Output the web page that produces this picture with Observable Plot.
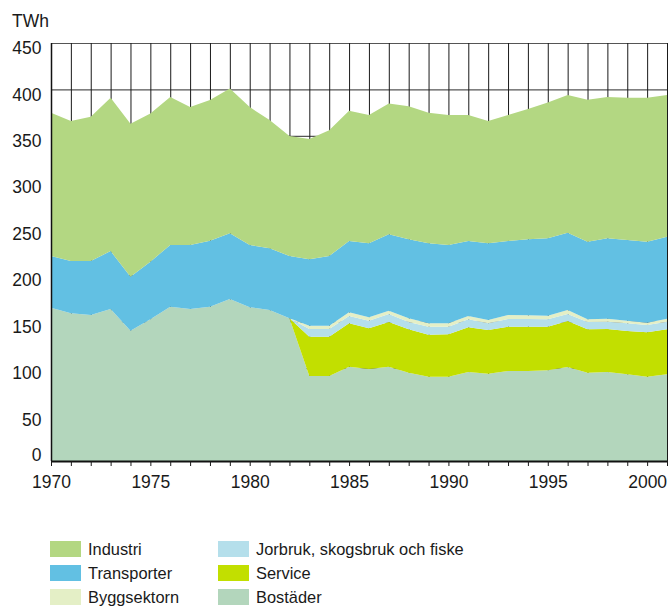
<!DOCTYPE html>
<html><head><meta charset="utf-8">
<script src="https://cdn.jsdelivr.net/npm/d3@7"></script>
<script src="https://cdn.jsdelivr.net/npm/@observablehq/plot@0.6"></script>
<style>
body{margin:0;background:#fff;font-family:"Liberation Sans",Arial,sans-serif;color:#1a1a1a}
#wrap{position:relative;width:668px;height:607px;overflow:hidden}
#unit{position:absolute;left:12px;top:13px;font-size:17.5px;line-height:17px}
#chart{position:absolute;left:0;top:0}
.lg{position:absolute;display:flex;align-items:center;font-size:16.4px;line-height:16px;white-space:nowrap}
.sw{width:31px;height:16px;margin-right:7px;flex:none}
</style></head><body>
<div id="wrap"><div id="chart"></div><div id="unit">TWh</div><div id="legend"></div></div>
<script>
const years = [1970,1971,1972,1973,1974,1975,1976,1977,1978,1979,1980,1981,1982,1983,1984,1985,1986,1987,1988,1989,1990,1991,1992,1993,1994,1995,1996,1997,1998,1999,2000,2001];
const seriesNames = ["Bostäder","Service","Jorbruk, skogsbruk och fiske","Byggsektorn","Transporter","Industri"];
const bostader = [165,159,157.2,163.6,140.3,152.5,166.1,163.6,166.1,174.4,165.5,162.6,153.6,91.5,91.5,101.5,99,101.5,95.1,90.8,90.8,95.8,94,96.9,96.9,97.6,101.2,95.1,95.8,93.3,90.8,93.3];
const service = [null,null,null,null,null,null,null,null,null,null,null,null,0,42.3,42.3,46.7,43.9,48.1,46.7,45.2,45.6,48.1,47,47.7,47.7,47,49.5,46.7,46.3,46.7,47.7,48.5];
const jordbruk = [null,null,null,null,null,null,null,null,null,null,null,null,0,8.3,8.3,7.9,8.2,8.7,7.8,8.6,8.2,8.6,7.2,8.3,8.3,7.9,7.6,7.8,7.9,8.2,7.9,8.2];
const bygg = [null,null,null,null,null,null,null,null,null,null,null,null,0,3.6,3.6,4.0,3.6,3.5,4.0,3.6,3.6,3.6,3.6,4.3,3.9,3.9,4.3,2.9,3.2,2.8,2.5,3.2];
const transport = [55.7,56.3,58.1,62.4,58.1,62.1,66.4,68.9,71.1,70.7,67,66.4,67.1,71.4,75,76.7,79.6,82.2,85.1,86.1,84.3,80.7,82.5,79.6,81.9,83.3,83.2,83.6,86.5,86.9,87.2,88.3];
const industri = [154.3,150.7,155.3,165,164.6,159.4,159.5,148.5,151.4,155.9,148.5,138,129.3,129.5,135.3,140.2,138.2,141,143.3,140.7,140,135.7,131.7,135.7,140.3,146.3,148.2,152.9,152.3,153.1,154.9,152.5];
const yTicks = [0,50,100,150,200,250,300,350,400,450];
const xLabelYears = [1970,1975,1980,1985,1990,1995,2000];
const colors = ["#b3d6bc","#c2df00","#b5dfeb","#e4efc6","#62c0e3","#b3d782"];
const legendOrder = ["Industri","Transporter","Byggsektorn","Jorbruk, skogsbruk och fiske","Service","Bostäder"];

const valuesBySeries = [bostader, service, jordbruk, bygg, transport, industri];
const data = [];
seriesNames.forEach((s, k) => years.forEach((yr, i) => data.push({year: yr, series: s, value: valuesBySeries[k][i]})));

const chart = Plot.plot({
  width: 668, height: 495,
  marginLeft: 51, marginRight: 1, marginTop: 43, marginBottom: 34,
  style: {fontFamily: "'Liberation Sans', Arial, sans-serif", fontSize: "17.5px", color: "#1a1a1a", background: "#fff"},
  x: {domain: [1970, 2001]},
  y: {domain: [0, 450]},
  color: {domain: seriesNames, range: colors},
  marks: [
    Plot.ruleY(yTicks, {stroke: "#555", strokeWidth: 1.2}),
    Plot.ruleX(years, {stroke: "#1a1a1a", strokeWidth: 1}),
    Plot.areaY(data, {x: "year", y: "value", fill: "series", z: "series", order: seriesNames}),
    Plot.ruleX([1970], {stroke: "#111", strokeWidth: 1.5}),
    Plot.ruleY([0], {stroke: "#111", strokeWidth: 2}),
    Plot.axisX({ticks: years, tickSize: 5, tickPadding: 9, tickFormat: d => xLabelYears.includes(d) ? String(d) : "", label: null}),
    Plot.axisY({ticks: yTicks.filter(d => d > 0), tickSize: 0, tickPadding: 10, dy: 5, tickFormat: d => String(d), label: null}),
    Plot.axisY({ticks: [0], tickSize: 0, tickPadding: 10, dy: -6, tickFormat: d => String(d), label: null})
  ]
});
document.getElementById("chart").append(chart);

const legend = document.getElementById("legend");
const colX = [50, 218], rowY = [541, 565, 589];
legendOrder.forEach((name, i) => {
  const el = document.createElement("div");
  el.className = "lg";
  el.style.left = colX[Math.floor(i / 3)] + "px";
  el.style.top = rowY[i % 3] + "px";
  const sw = document.createElement("div");
  sw.className = "sw";
  sw.style.background = colors[seriesNames.indexOf(name)];
  const t = document.createElement("span");
  t.textContent = name;
  el.append(sw, t);
  legend.append(el);
});
</script>
</body></html>
